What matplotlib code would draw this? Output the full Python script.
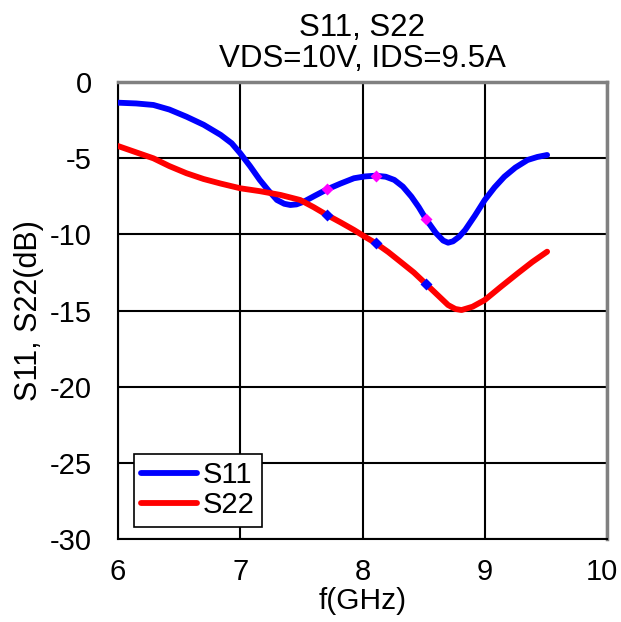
import matplotlib
matplotlib.use("Agg")
import matplotlib.pyplot as plt
from matplotlib.transforms import ScaledTranslation

plt.rcParams['font.family'] = ['Liberation Sans', 'DejaVu Sans']
plt.rcParams['axes.unicode_minus'] = False

# Data
s11_f = [6.00, 6.15, 6.29, 6.42, 6.56, 6.70, 6.84, 6.93, 7.00, 7.08, 7.16, 7.23, 7.30, 7.36,
         7.41, 7.46, 7.52, 7.61, 7.71, 7.82, 7.93, 8.02, 8.11, 8.19, 8.26, 8.33, 8.40, 8.46,
         8.52, 8.60, 8.66, 8.70, 8.74, 8.79, 8.84, 8.92, 9.00, 9.08, 9.16, 9.25, 9.35, 9.43, 9.51]
s11_db = [-1.33, -1.38, -1.48, -1.78, -2.25, -2.78, -3.45, -4.00, -4.66, -5.50, -6.41, -7.10, -7.73, -7.98,
          -8.06, -8.02, -7.84, -7.45, -7.03, -6.65, -6.30, -6.18, -6.13, -6.20, -6.41, -6.85, -7.51, -8.20,
          -9.00, -9.90, -10.40, -10.54, -10.45, -10.15, -9.70, -8.75, -7.73, -6.90, -6.20, -5.60, -5.10, -4.90, -4.77]

s22_f = [6.00, 6.15, 6.29, 6.42, 6.56, 6.70, 6.84, 7.00, 7.16, 7.33, 7.49, 7.60, 7.71, 7.82, 7.93,
         8.02, 8.11, 8.21, 8.31, 8.42, 8.52, 8.61, 8.70, 8.76, 8.81, 8.90, 9.00, 9.13, 9.27, 9.39, 9.51]
s22_db = [-4.18, -4.60, -4.99, -5.50, -5.97, -6.35, -6.65, -6.96, -7.15, -7.40, -7.73, -8.20, -8.72, -9.20, -9.70,
          -10.15, -10.58, -11.15, -11.79, -12.50, -13.26, -13.95, -14.64, -14.90, -14.97, -14.75, -14.31, -13.45, -12.55, -11.80, -11.13]

mark_f = [7.71, 8.11, 8.52]
s11_mark = [-7.03, -6.13, -9.00]
s22_mark = [-8.72, -10.58, -13.26]

x_ticks = [6, 7, 8, 9, 10]
y_ticks = [0, -5, -10, -15, -20, -25, -30]

fig = plt.figure(figsize=(6.21, 6.22), dpi=100)
ax = fig.add_axes([0.190, 0.1342, 0.7875, 0.7332])

ax.plot(s11_f, s11_db, color='#0000ff', lw=4.2, solid_capstyle='round', label='S11', zorder=3)
ax.plot(s22_f, s22_db, color='#ff0000', lw=4.2, solid_capstyle='round', label='S22', zorder=3)
ax.plot(mark_f, s11_mark, ls='none', marker='D', ms=6, color='#ff00ff', mec='none', zorder=4)
ax.plot(mark_f, s22_mark, ls='none', marker='D', ms=6, color='#0000ff', mec='none', zorder=4)

ax.set_xlim(6, 10)
ax.set_ylim(-30, 0)
ax.set_xticks(x_ticks)
ax.set_yticks(y_ticks)
ax.set_xticklabels([str(v) for v in x_ticks])
ax.set_yticklabels([str(v) for v in y_ticks])
ax.tick_params(axis='both', length=0, labelsize=21)
ax.tick_params(axis='x', pad=14)
ax.tick_params(axis='y', pad=19)
ax.grid(True, color='black', lw=1.5)
ax.set_axisbelow(True)

# nudge the last x tick label so it stays inside the figure, as in the reference
last = ax.get_xticklabels()[-1]
last.set_transform(last.get_transform() + ScaledTranslation(-4 / 72, 0, fig.dpi_scale_trans))

for side in ['left', 'bottom']:
    ax.spines[side].set_color('black')
    ax.spines[side].set_linewidth(1.5)
for side in ['top', 'right']:
    ax.spines[side].set_color('#808080')
    ax.spines[side].set_linewidth(2.5)

ax.set_title('S11, S22\nVDS=10V, IDS=9.5A', fontsize=22.5, linespacing=1.05, pad=11)
ax.set_xlabel('f(GHz)', fontsize=21.5, labelpad=1)
ax.set_ylabel('S11, S22(dB)', fontsize=22, labelpad=4)

leg = ax.legend(loc='lower left', bbox_to_anchor=(0.0327, 0.026), fontsize=21,
                frameon=True, fancybox=False, edgecolor='black', framealpha=1,
                handlelength=1.9, handletextpad=0.2, borderpad=0.25, labelspacing=0.08,
                borderaxespad=0)
leg.get_frame().set_linewidth(1.2)
for line in leg.get_lines():
    line.set_linewidth(4.2)

fig.savefig('out.png', dpi=100)
